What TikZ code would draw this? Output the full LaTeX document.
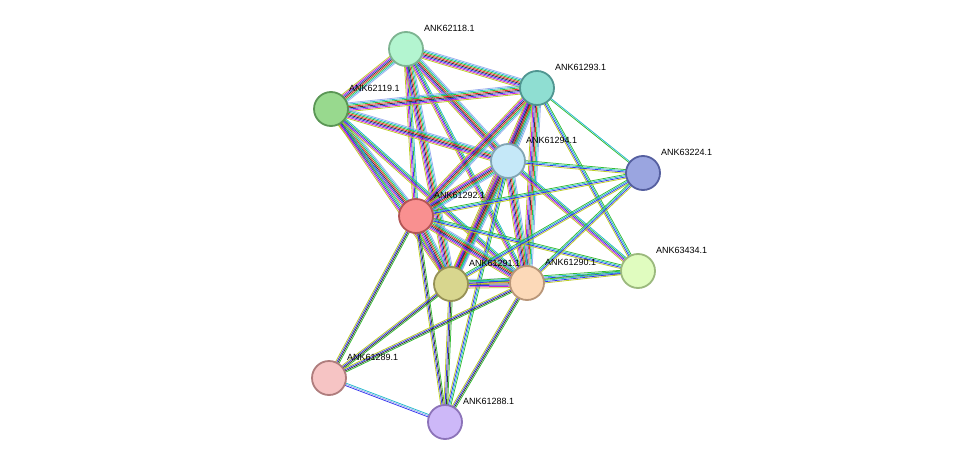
\documentclass[tikz,border=0pt]{standalone}
\usepackage{fontspec}
\setmainfont{Liberation Sans}
\usetikzlibrary{calc}
\definecolor{egreen}{HTML}{33BB33}
\definecolor{ered}{HTML}{EE2222}
\definecolor{eblue}{HTML}{3333EE}
\definecolor{emag}{HTML}{CC22CC}
\definecolor{eyel}{HTML}{BBCC22}
\definecolor{eblk}{HTML}{333333}
\definecolor{ecyan}{HTML}{22BBCC}
\definecolor{elb}{HTML}{99AAEE}
\newcommand\edg[4]{\foreach \c [count=\i] in #4{\pgfmathsetmacro\o{(\i-(#3+1)/2)*1.25}\draw[draw=\c,line width=0.75pt] ($(#1)!\o pt!90:(#2)$) -- ($(#2)!\o pt!-90:(#1)$);}}
\def\A{eyel,emag,eblue,eblk,ered,egreen,ecyan,elb}
\def\B{eyel,emag,eblue,egreen,ecyan}
\def\C{eyel,eblue,ecyan,egreen}
\def\D{eyel,eblue,eblk,egreen}
\def\E{egreen,ecyan}
\def\F{eblue,elb,ecyan}
\tikzset{prot/.style={circle,minimum size=34pt,inner sep=0pt,line width=1.8pt},
 lab/.style={anchor=west,font=\fontsize{9}{10}\selectfont,inner sep=1pt}}
\begin{document}
\begin{tikzpicture}[x=1pt,y=-1pt]
\useasboundingbox (0,0) rectangle (976,468);
\fill[white] (0,0) rectangle (976,468);
\coordinate (n18) at (406,49);
\coordinate (n93) at (537,88);
\coordinate (n19) at (331,109);
\coordinate (n94) at (508,161);
\coordinate (n24) at (643,173);
\coordinate (n92) at (416,216);
\coordinate (n91) at (451,284);
\coordinate (n90) at (527,283);
\coordinate (n34) at (638,271);
\coordinate (n89) at (329,378);
\coordinate (n88) at (445,422);
\edg{n18}{n19}{8}{\A}
\edg{n18}{n93}{8}{\A}
\edg{n18}{n94}{8}{\A}
\edg{n18}{n92}{5}{\B}
\edg{n18}{n91}{8}{\A}
\edg{n18}{n90}{5}{\B}
\edg{n19}{n93}{8}{\A}
\edg{n19}{n94}{8}{\A}
\edg{n19}{n92}{8}{\A}
\edg{n19}{n91}{5}{\B}
\edg{n19}{n90}{5}{\B}
\edg{n93}{n94}{8}{\A}
\edg{n93}{n92}{8}{\A}
\edg{n93}{n91}{8}{\A}
\edg{n93}{n90}{8}{\A}
\edg{n93}{n24}{2}{\E}
\edg{n93}{n34}{4}{\C}
\edg{n94}{n92}{8}{\A}
\edg{n94}{n91}{8}{\A}
\edg{n94}{n90}{8}{\A}
\edg{n94}{n24}{4}{\C}
\edg{n94}{n34}{5}{\B}
\edg{n94}{n88}{4}{\C}
\edg{n92}{n91}{8}{\A}
\edg{n92}{n90}{8}{\A}
\edg{n92}{n24}{4}{\C}
\edg{n92}{n34}{4}{\C}
\edg{n92}{n89}{4}{\D}
\edg{n92}{n88}{4}{\D}
\edg{n91}{n90}{8}{\A}
\edg{n91}{n24}{4}{\C}
\edg{n91}{n34}{4}{\C}
\edg{n90}{n34}{4}{\C}
\edg{n90}{n24}{4}{\C}
\edg{n91}{n89}{4}{\D}
\edg{n91}{n88}{4}{\D}
\edg{n90}{n89}{4}{\D}
\edg{n90}{n88}{4}{\D}
\edg{n89}{n88}{3}{\F}
\node[prot,fill={rgb,255:red,179;green,245;blue,208},draw={rgb,255:red,125;green,180;blue,145}] (a18) at (n18) {};
\node[prot,fill={rgb,255:red,143;green,222;blue,210},draw={rgb,255:red,80;green,150;blue,145}] (a93) at (n93) {};
\node[prot,fill={rgb,255:red,152;green,217;blue,142},draw={rgb,255:red,90;green,150;blue,85}] (a19) at (n19) {};
\node[prot,fill={rgb,255:red,197;green,232;blue,248},draw={rgb,255:red,130;green,165;blue,180}] (a94) at (n94) {};
\node[prot,fill={rgb,255:red,154;green,165;blue,224},draw={rgb,255:red,85;green,95;blue,160}] (a24) at (n24) {};
\node[prot,fill={rgb,255:red,249;green,144;blue,144},draw={rgb,255:red,180;green,85;blue,85}] (a92) at (n92) {};
\node[prot,fill={rgb,255:red,216;green,214;blue,142},draw={rgb,255:red,150;green,145;blue,85}] (a91) at (n91) {};
\node[prot,fill={rgb,255:red,252;green,217;blue,184},draw={rgb,255:red,185;green,150;blue,120}] (a90) at (n90) {};
\node[prot,fill={rgb,255:red,224;green,252;blue,191},draw={rgb,255:red,155;green,185;blue,125}] (a34) at (n34) {};
\node[prot,fill={rgb,255:red,246;green,196;blue,196},draw={rgb,255:red,175;green,125;blue,125}] (a89) at (n89) {};
\node[prot,fill={rgb,255:red,205;green,184;blue,248},draw={rgb,255:red,140;green,115;blue,185}] (a88) at (n88) {};
\node[lab] at ($(n18)+(17,-21)$) {ANK62118.1};
\node[lab] at ($(n93)+(17,-21)$) {ANK61293.1};
\node[lab] at ($(n19)+(17,-21)$) {ANK62119.1};
\node[lab] at ($(n94)+(17,-21)$) {ANK61294.1};
\node[lab] at ($(n24)+(17,-21)$) {ANK63224.1};
\node[lab] at ($(n92)+(17,-21)$) {ANK61292.1};
\node[lab] at ($(n91)+(17,-21)$) {ANK61291.1};
\node[lab] at ($(n90)+(17,-21)$) {ANK61290.1};
\node[lab] at ($(n34)+(17,-21)$) {ANK63434.1};
\node[lab] at ($(n89)+(17,-21)$) {ANK61289.1};
\node[lab] at ($(n88)+(17,-21)$) {ANK61288.1};
\end{tikzpicture}
\end{document}
